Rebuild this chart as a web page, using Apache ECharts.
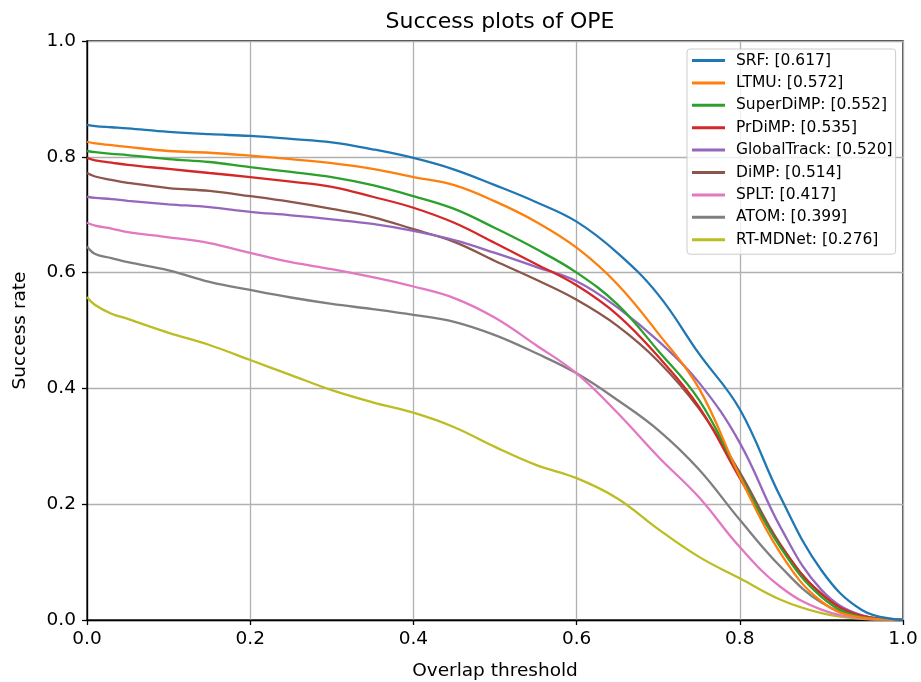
<!DOCTYPE html>
<html>
<head>
<meta charset="utf-8">
<script src="https://cdn.jsdelivr.net/npm/echarts@6/dist/echarts.min.js"></script>
<style>html,body{margin:0;padding:0;background:#fff}#main{width:921px;height:682px}</style>
</head>
<body>
<div id="main"></div>
<script>
const thresholds = [0,0.01,0.03,0.05,0.1,0.15,0.2,0.25,0.3,0.35,0.4,0.45,0.5,0.55,0.6,0.65,0.7,0.75,0.8,0.85,0.9,0.95,1.0];
const seriesNames = ['SRF: [0.617]','LTMU: [0.572]','SuperDiMP: [0.552]','PrDiMP: [0.535]','GlobalTrack: [0.520]','DiMP: [0.514]','SPLT: [0.417]','ATOM: [0.399]','RT-MDNet: [0.276]'];
const srf = [0.855,0.853,0.851,0.849,0.843,0.839,0.836,0.831,0.825,0.813,0.798,0.778,0.751,0.722,0.688,0.634,0.562,0.46,0.364,0.212,0.086,0.017,0];
const ltmu = [0.826,0.823,0.82,0.817,0.81,0.807,0.802,0.796,0.789,0.779,0.765,0.751,0.723,0.688,0.643,0.58,0.495,0.40,0.248,0.115,0.032,0.004,0];
const superdimp = [0.81,0.808,0.805,0.803,0.796,0.791,0.782,0.774,0.765,0.751,0.732,0.71,0.677,0.641,0.6,0.545,0.465,0.38,0.25,0.125,0.04,0.005,0];
const prdimp = [0.798,0.794,0.79,0.786,0.779,0.772,0.765,0.757,0.748,0.731,0.712,0.686,0.651,0.615,0.578,0.527,0.455,0.368,0.245,0.128,0.045,0.007,0];
const globaltrack = [0.731,0.729,0.727,0.724,0.718,0.713,0.705,0.699,0.692,0.684,0.672,0.656,0.634,0.61,0.585,0.54,0.482,0.41,0.306,0.16,0.052,0.008,0];
const dimp = [0.772,0.766,0.76,0.755,0.746,0.741,0.732,0.722,0.71,0.696,0.675,0.653,0.62,0.588,0.553,0.508,0.447,0.365,0.255,0.13,0.045,0.007,0];
const splt = [0.686,0.681,0.676,0.67,0.661,0.651,0.634,0.618,0.606,0.592,0.576,0.556,0.522,0.475,0.426,0.358,0.282,0.212,0.126,0.057,0.018,0.003,0];
const atom = [0.645,0.632,0.625,0.618,0.604,0.584,0.57,0.557,0.546,0.537,0.527,0.515,0.492,0.461,0.426,0.38,0.328,0.26,0.173,0.092,0.03,0.005,0];
const rtmdnet = [0.558,0.544,0.529,0.52,0.496,0.475,0.449,0.423,0.397,0.376,0.358,0.333,0.299,0.268,0.245,0.21,0.157,0.109,0.072,0.035,0.012,0.002,0];
const allValues = [srf, ltmu, superdimp, prdimp, globaltrack, dimp, splt, atom, rtmdnet];
const colors = ['#1f77b4','#ff7f0e','#2ca02c','#d62728','#9467bd','#8c564b','#e377c2','#7f7f7f','#bcbd22'];

const FONT = 'DejaVu Sans';
const chart = echarts.init(document.getElementById('main'), null, {renderer:'canvas'});
const series = seriesNames.map((name, i) => ({
  name: name,
  type: 'line',
  data: thresholds.map((t, j) => [t, allValues[i][j]]),
  showSymbol: false,
  smooth: 0.4,
  lineStyle: {width: 2.3, color: colors[i]},
  itemStyle: {color: colors[i]},
  z: 10 - i,
  animation: false
}));
chart.setOption({
  animation: false,
  backgroundColor: '#fff',
  title: {
    text: 'Success plots of OPE',
    left: 495, top: 6, textAlign: 'center',
    textStyle: {fontFamily: FONT, fontSize: 22, fontWeight: 'normal', color: '#000'}
  },
  grid: {left: 87, right: 18, top: 41, bottom: 62, show: true, borderColor: '#000', borderWidth: 1.3, backgroundColor: 'transparent', outerBoundsMode: 'none', containLabel: false},
  legend: {
    orient: 'vertical', left: 687, top: 49,
    padding: [3, 3, 6, 5],
    itemWidth: 33, itemHeight: 3, itemGap: 5.4,
    icon: 'rect',
    borderColor: '#cccccc', borderWidth: 1, borderRadius: 3,
    backgroundColor: 'rgba(255,255,255,0.8)',
    textStyle: {fontFamily: FONT, fontSize: 15.5, color: '#000', lineHeight: 17, padding: [0,0,0,6]},
    data: seriesNames
  },
  xAxis: {
    type: 'value', min: 0, max: 1, interval: 0.2,
    name: 'Overlap threshold', nameLocation: 'middle', nameGap: 42,
    nameTextStyle: {fontFamily: FONT, fontSize: 18.5, color: '#000'},
    axisLine: {show: true, onZero: false, lineStyle: {color: '#000', width: 1.3}},
    axisTick: {show: true, inside: false, length: 5, lineStyle: {color: '#000', width: 1.3}},
    axisLabel: {fontFamily: FONT, fontSize: 18.5, color: '#000', margin: 10, formatter: v => v.toFixed(1)},
    splitLine: {show: true, lineStyle: {color: '#b0b0b0', width: 1.3}}
  },
  yAxis: {
    type: 'value', min: 0, max: 1, interval: 0.2,
    name: 'Success rate', nameLocation: 'middle', nameGap: 57,
    nameTextStyle: {fontFamily: FONT, fontSize: 18.5, color: '#000'},
    axisLine: {show: true, onZero: false, lineStyle: {color: '#000', width: 1.3}},
    axisTick: {show: true, inside: false, length: 5, lineStyle: {color: '#000', width: 1.3}},
    axisLabel: {fontFamily: FONT, fontSize: 18.5, color: '#000', margin: 11, formatter: v => v.toFixed(1)},
    splitLine: {show: true, lineStyle: {color: '#b0b0b0', width: 1.3}}
  },
  series: series
});
</script>
</body>
</html>
